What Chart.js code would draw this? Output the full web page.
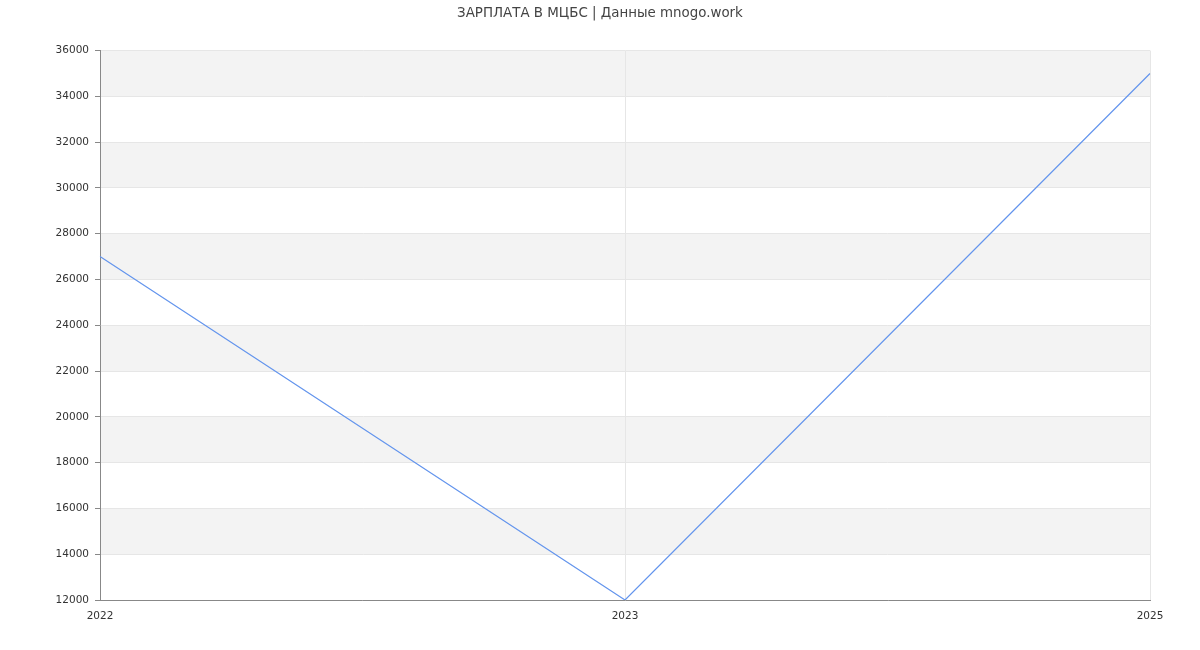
<!DOCTYPE html>
<html>
<head>
<meta charset="utf-8">
<script src="https://cdn.jsdelivr.net/npm/chart.js@4"></script>
<style>
  body { margin: 0; background: #fff; }
  #salary-chart { display: block; }
</style>
</head>
<body>
<canvas id="salary-chart" width="1200" height="650"></canvas>
<script>
// chart data
var years = ['2022', '2023', '2025'];
var salaries = [27000, 12000, 35000];
var chartTitle = 'ЗАРПЛАТА В МЦБС | Данные mnogo.work';

// paint alternating horizontal bands behind grid and line
var bandsPlugin = {
    id: 'bands',
    beforeDraw: function(chart) {
        var ctx = chart.ctx;
        var area = chart.chartArea;
        var y = chart.scales.y;
        var ticks = y.ticks;
        ctx.save();
        ctx.fillStyle = '#f3f3f3';
        for (var i = ticks.length - 1; i > 0; i -= 2) {
            var top = y.getPixelForValue(ticks[i].value);
            var bottom = y.getPixelForValue(ticks[i - 1].value);
            ctx.fillRect(area.left, top, area.right - area.left, bottom - top);
        }
        ctx.restore();
    }
};

Chart.defaults.font.family = '"DejaVu Sans", sans-serif';

var ctx = document.getElementById('salary-chart').getContext('2d');
var salaryChart = new Chart(ctx, {
    type: 'line',
    data: {
        labels: years,
        datasets: [{
            label: 'Зарплата',
            data: salaries,
            borderColor: '#6495ed',
            borderWidth: 1.2,
            pointRadius: 0,
            tension: 0,
            fill: false
        }]
    },
    options: {
        responsive: false,
        animation: false,
        layout: {
            padding: 0
        },
        scales: {
            x: {
                offset: false,
                grid: {
                    color: '#e6e6e6',
                    drawTicks: false
                },
                border: { color: '#888' },
                ticks: {
                    color: '#333',
                    font: { size: 10.5 },
                    padding: 10,
                    maxRotation: 0
                },
                afterFit: function(scale) { scale.height = 50; }
            },
            y: {
                min: 12000,
                max: 36000,
                grid: {
                    color: '#e6e6e6',
                    tickColor: '#888',
                    tickLength: 5
                },
                border: { color: '#888' },
                ticks: {
                    stepSize: 2000,
                    color: '#333',
                    font: { size: 10.5 },
                    padding: 6,
                    callback: function(value) { return String(value); }
                },
                afterFit: function(scale) { scale.width = 100; }
            },
            // empty right margin so the title stays centred on the page
            spacer: {
                position: 'right',
                grid: { display: false },
                border: { display: false },
                ticks: { display: false },
                afterFit: function(scale) { scale.width = 50; }
            }
        },
        plugins: {
            legend: { display: false },
            tooltip: { enabled: false },
            title: {
                display: true,
                text: chartTitle,
                color: '#444',
                font: { size: 13.4, weight: 'normal' },
                padding: { top: 5, bottom: 29.5 }
            }
        }
    },
    plugins: [bandsPlugin]
});
</script>
</body>
</html>
